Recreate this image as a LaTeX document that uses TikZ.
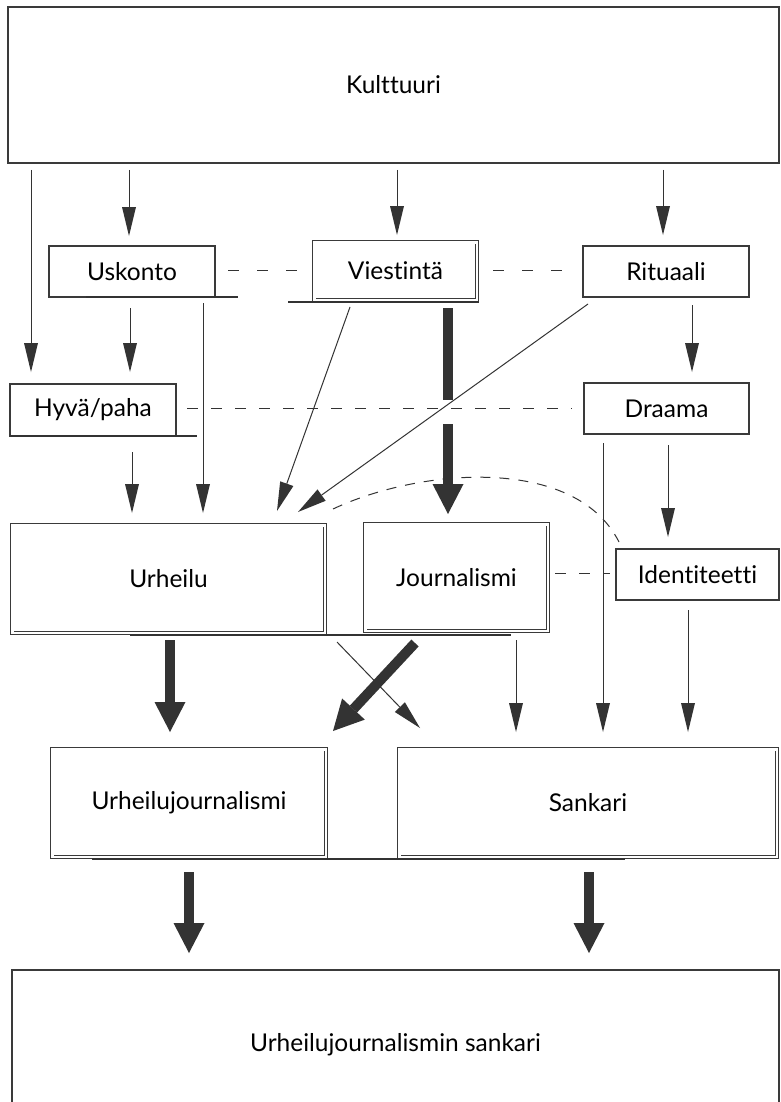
\documentclass[tikz,border=0pt]{standalone}
\usepackage{fontspec}
\setmainfont{Lato}[Ligatures={NoCommon,NoDiscretionary}]
\usetikzlibrary{arrows.meta}
\definecolor{linec}{HTML}{333333}
\definecolor{boxc}{HTML}{3A3A3A}
\begin{document}
\begin{tikzpicture}[x=1pt,y=-1pt,
  lbl/.style={font=\fontsize{24.5}{28}\selectfont, text=black},
  box/.style={lbl, draw=boxc, line width=1.3pt, inner sep=0pt},
  dbox/.style={lbl, draw=boxc, double=white, double distance=2.6pt, line width=0.9pt, inner sep=0pt},
  arr/.style={draw=linec, line width=1pt, -{Triangle[length=29pt,width=14pt,line width=0pt]}},
  fatarr/.style={draw=linec, line width=10pt, -{Triangle[length=30pt,width=31pt,line width=0pt]}},
  fatline/.style={draw=linec, line width=10pt},
  dsh/.style={draw=linec, line width=1pt, dash pattern=on 11pt off 18pt},
  dsh2/.style={draw=linec, line width=1pt, dash pattern=on 11pt off 13pt},
  dsh3/.style={draw=linec, line width=1pt, dash pattern=on 10pt off 9pt},
  uline/.style={draw=linec, line width=2pt}]
\useasboundingbox (0,0) rectangle (781,1102);
\fill[white] (0,0) rectangle (781,1102);

% nodes
\node[box, minimum width=771pt, minimum height=156pt] (kult) at (393.5,85) {Kulttuuri};
\node[box, minimum width=166pt, minimum height=51pt] (usk) at (132,271.5) {Uskonto};
\node[dbox, minimum width=162.6pt, minimum height=57.6pt] (viest) at (395.5,271) {Viestintä};
\node[box, minimum width=166pt, minimum height=51pt] (rit) at (666,271.5) {Rituaali};
\node[box, minimum width=166pt, minimum height=52pt] (hyva) at (93,410) {Hyvä/paha};
\node[box, minimum width=165pt, minimum height=51pt] (draama) at (666.5,408.5) {Draama};
\node[dbox, minimum width=312.6pt, minimum height=107.6pt] (urh) at (168.5,579) {Urheilu};
\node[dbox, minimum width=182.6pt, minimum height=106.6pt] (journ) at (456.5,577.5) {Journalismi};
\node[box, minimum width=163pt, minimum height=51pt] (ident) at (697.5,574.5) {Identiteetti};
\node[dbox, minimum width=273.6pt, minimum height=107.6pt] (uj) at (189,803) {Urheilujournalismi};
\node[dbox, minimum width=377.6pt, minimum height=107.6pt] (sank) at (588,803) {Sankari};
\node[box, minimum width=767pt, minimum height=150pt] (bot) at (395.5,1045) {Urheilujournalismin sankari};

% underlines
\draw[uline] ([shift={(-46,25.5)}]usk.center) -- ([shift={(106,25.5)}]usk.center);
\draw[uline] ([shift={(-107.5,31)}]viest.center) -- ([shift={(83.5,31)}]viest.center);
\draw[uline] ([shift={(-83,26)}]hyva.center) -- ([shift={(104,26)}]hyva.center);
\draw[uline] ([shift={(-38.5,56)}]urh.center) -- ([shift={(54.5,57.5)}]journ.center);
\draw[uline] ([shift={(-97,56)}]uj.center) -- ([shift={(37,56)}]sank.center);

% dashed relations
\draw[dsh] ([shift={(96,-1.5)}]usk.center) -- ([shift={(-97.5,-1)}]viest.center);
\draw[dsh] ([shift={(97.5,-1)}]viest.center) -- ([shift={(-103,-1.5)}]rit.center);
\draw[dsh2] ([shift={(94,-2)}]hyva.center) -- ([shift={(-94.5,-0.5)}]draama.center);
\draw[dsh2] ([shift={(98.5,-4.5)}]journ.center) -- ([shift={(-87.5,-1.5)}]ident.center);
\draw[dsh3] ([shift={(164.5,-70)}]urh.center) .. controls (420,468) and (575,455) .. ([shift={(-78.5,-32.5)}]ident.center);

% thin arrows
\draw[arr] ([shift={(-362.5,85)}]kult.center) -- ([shift={(-62,-38)}]hyva.center);
\draw[arr] ([shift={(-264.5,85)}]kult.center) -- ([shift={(-3,-35.5)}]usk.center);
\draw[arr] ([shift={(3.5,85)}]kult.center) -- ([shift={(1.5,-36)}]viest.center);
\draw[arr] ([shift={(269.5,85)}]kult.center) -- ([shift={(-3,-36.5)}]rit.center);
\draw[arr] ([shift={(-2,36.5)}]usk.center) -- ([shift={(37,-38)}]hyva.center);
\draw[arr] ([shift={(26,33.5)}]rit.center) -- ([shift={(25.5,-36.5)}]draama.center);
\draw[arr] ([shift={(39,42)}]hyva.center) -- ([shift={(-36.5,-66)}]urh.center);
\draw[arr] ([shift={(71,31.5)}]usk.center) -- ([shift={(34.5,-66)}]urh.center);
\draw[arr] ([shift={(-45.5,36)}]viest.center) -- ([shift={(108.5,-68)}]urh.center);
\draw[arr] ([shift={(-78,32.5)}]rit.center) -- ([shift={(129.5,-67)}]urh.center);
\draw[arr] ([shift={(1.5,36.5)}]draama.center) -- ([shift={(-29.5,-37.5)}]ident.center);
\draw[arr] ([shift={(-63.5,34.5)}]draama.center) -- ([shift={(15,-71)}]sank.center);
\draw[arr] ([shift={(-9.5,35.5)}]ident.center) -- ([shift={(100,-71)}]sank.center);
\draw[arr] ([shift={(59.5,62.5)}]journ.center) -- ([shift={(-72,-71)}]sank.center);
\draw[arr] ([shift={(-119.5,64.5)}]journ.center) -- ([shift={(-168,-75)}]sank.center);

% thick arrows
\draw[fatline] ([shift={(52.5,37)}]viest.center) -- ([shift={(-8.5,-177.5)}]journ.center);
\draw[fatarr] ([shift={(-8.5,-153.5)}]journ.center) -- ([shift={(-8.5,-63.5)}]journ.center);
\draw[fatarr] ([shift={(1.5,61)}]urh.center) -- ([shift={(-19,-71)}]uj.center);
\draw[fatarr] ([shift={(-41.5,65.5)}]journ.center) -- ([shift={(144,-72)}]uj.center);
\draw[fatarr] ([shift={(0,69)}]uj.center) -- ([shift={(-206.5,-92)}]bot.center);
\draw[fatarr] ([shift={(1,69)}]sank.center) -- ([shift={(193.5,-92)}]bot.center);
\end{tikzpicture}
\end{document}
